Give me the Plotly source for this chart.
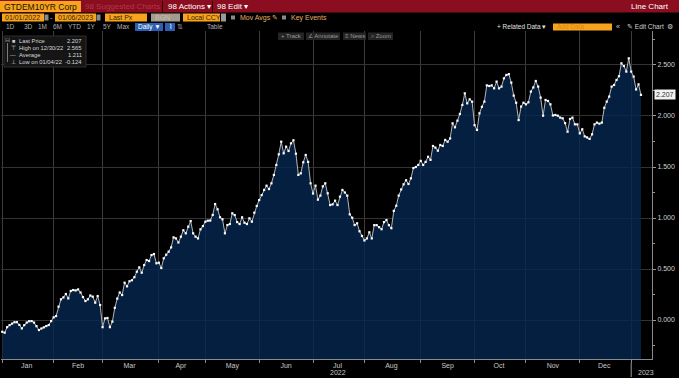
import pandas as pd
import plotly.graph_objects as go

# ---------------- data ----------------
HOLIDAYS = ["2022-04-15", "2022-04-18", "2022-12-26"]
START_DATE = "2022-01-03"
END_DATE = "2023-01-06"

jan_2022 = [-0.115, -0.124, -0.070, -0.050, -0.035, -0.022, -0.021, -0.048, -0.082, -0.050, -0.025,
            -0.012, -0.010, -0.025, -0.060, -0.098, -0.083, -0.072, -0.059, -0.049, -0.010]
feb_2022 = [0.026, 0.039, 0.131, 0.203, 0.222, 0.255, 0.212, 0.285, 0.294, 0.290, 0.300, 0.270,
            0.225, 0.186, 0.203, 0.240, 0.229, 0.170, 0.235, 0.147]
mar_2022 = [-0.070, 0.016, 0.020, -0.070, -0.016, 0.120, 0.210, 0.270, 0.245, 0.366, 0.330, 0.380,
            0.390, 0.420, 0.474, 0.516, 0.464, 0.539, 0.588, 0.578, 0.637, 0.647, 0.556]
apr_2022 = [0.562, 0.510, 0.605, 0.640, 0.670, 0.712, 0.810, 0.800, 0.760, 0.817, 0.880, 0.850,
            0.915, 0.970, 0.850, 0.817, 0.800, 0.889, 0.921]
may_2022 = [0.964, 0.974, 0.975, 1.030, 1.137, 1.085, 1.007, 0.987, 0.850, 0.931, 0.941, 1.046,
            1.029, 0.960, 0.941, 1.007, 0.954, 0.941, 0.997, 0.964, 1.052, 1.118]
jun_2022 = [1.176, 1.225, 1.275, 1.317, 1.284, 1.340, 1.422, 1.520, 1.624, 1.748, 1.634, 1.699,
            1.657, 1.732, 1.762, 1.630, 1.422, 1.438, 1.546, 1.618, 1.550, 1.340]
jul_2022 = [1.240, 1.317, 1.180, 1.220, 1.310, 1.340, 1.242, 1.127, 1.134, 1.170, 1.127, 1.209,
            1.275, 1.250, 1.219, 1.036, 1.003, 0.931, 0.948, 0.870, 0.824]
aug_2022 = [0.780, 0.800, 0.860, 0.800, 0.930, 0.930, 0.910, 0.890, 0.960, 0.980, 0.930, 0.900,
            1.070, 1.120, 1.220, 1.280, 1.330, 1.370, 1.333, 1.389, 1.490, 1.500, 1.520]
sep_2022 = [1.560, 1.520, 1.550, 1.600, 1.570, 1.706, 1.690, 1.660, 1.716, 1.706, 1.765, 1.748,
            1.780, 1.928, 1.889, 1.954, 2.020, 2.108, 2.222, 2.124, 2.163, 2.140]
oct_2022 = [1.910, 1.863, 2.026, 2.090, 2.141, 2.300, 2.294, 2.300, 2.271, 2.337, 2.271, 2.288,
            2.369, 2.402, 2.410, 2.327, 2.200, 2.130, 1.960, 2.092, 2.130]
nov_2022 = [2.114, 2.134, 2.239, 2.280, 2.343, 2.288, 2.180, 2.003, 2.157, 2.147, 2.114, 2.005,
            2.010, 2.003, 1.984, 1.977, 1.930, 1.846, 1.971, 1.984, 1.918, 1.918]
dec_2022 = [1.830, 1.870, 1.800, 1.790, 1.775, 1.820, 1.918, 1.935, 1.925, 1.935, 2.080, 2.141,
            2.190, 2.288, 2.304, 2.353, 2.390, 2.516, 2.490, 2.435, 2.565]
jan_2023 = [2.435, 2.386, 2.260, 2.310, 2.207]

MONTH_LABELS = ["Jan", "Feb", "Mar", "Apr", "May", "Jun", "Jul", "Aug", "Sep", "Oct", "Nov", "Dec"]
Y_TICKS = [0.0, 0.5, 1.0, 1.5, 2.0, 2.5]
Y_MINOR = [-0.25, 0.25, 0.75, 1.25, 1.75, 2.25, 2.75]

LEGEND_ROWS = [("Last Price", "2.207"), ("High on 12/30/22", "2.565"),
               ("Average", "1.211"), ("Low on 01/04/22", "-0.124")]
LAST_PRICE = 2.207

values = (jan_2022 + feb_2022 + mar_2022 + apr_2022 + may_2022 + jun_2022 + jul_2022 +
          aug_2022 + sep_2022 + oct_2022 + nov_2022 + dec_2022 + jan_2023)
dates = [d for d in pd.bdate_range(START_DATE, END_DATE) if d.strftime("%Y-%m-%d") not in HOLIDAYS]
assert len(dates) == len(values)

# ---------------- geometry ----------------
W, H = 679, 378
PL, PR, PT, PB = 1, 652, 31, 359
Y_MIN, Y_MAX = -0.382, 2.833
FONT = "Liberation Sans, Arial, sans-serif"


def xp(px):
    return (px - PL) / (PR - PL)


def yp(py):
    return (PB - py) / (PB - PT)


# month starts / mid points from the trading calendar
s = pd.Series(dates)
month_key = s.dt.to_period("M")
month_first = [grp.iloc[0] for _, grp in s.groupby(month_key)]
month_mid = [grp.iloc[len(grp) // 2] for _, grp in s.groupby(month_key)]

fig = go.Figure()
fig.add_trace(go.Scatter(x=dates, y=[Y_MIN] * len(dates), mode="lines",
                         line=dict(width=0, color="rgba(0,0,0,0)"), hoverinfo="skip", showlegend=False))
fig.add_trace(go.Scatter(x=dates, y=values, mode="lines+markers", fill="tonexty",
                         fillcolor="rgba(6,38,78,0.82)",
                         line=dict(color="#c8c8c8", width=0.9),
                         marker=dict(color="#ffffff", size=2.2, symbol="square"),
                         showlegend=False))

shapes = []
ann = []


def box(x0, y0, x1, y1, color, line=None):
    shapes.append(dict(type="rect", xref="paper", yref="paper", x0=xp(x0), x1=xp(x1), y0=yp(y1), y1=yp(y0),
                       fillcolor=color, line=dict(width=1 if line else 0, color=line or color), layer="above"))


def text(px, py, t, color="#c8c8c8", size=7, anchor="left"):
    ann.append(dict(xref="paper", yref="paper", x=xp(px), y=yp(py), text=t, showarrow=False,
                    xanchor=anchor, yanchor="middle", font=dict(color=color, size=size, family=FONT)))


ORANGE = "#f7a31c"
RED = "#8a0e1f"
# row 1
box(0, 0, 679, 12.5, RED)
box(0, 1, 81, 12, ORANGE)
text(2, 6.8, "GTDEM10YR Corp", "#1a1000", 8.5)
text(83, 6.8, "98 Suggested Charts", "#b2374a", 8)
box(162, 1, 163, 12, "#2a0006")
text(166, 6.8, "98 Actions ▾", "#ffffff", 8)
box(212, 1, 213, 12, "#2a0006")
text(215, 6.8, "98 Edit ▾", "#ffffff", 8)
text(671, 6.8, "Line Chart", "#ffffff", 8, "right")
# row 2
box(2, 13.5, 44, 21.5, ORANGE)
text(3, 17.7, "01/01/2022", "#3a2200", 7)
box(44.5, 14.5, 48.5, 20.5, "#8a8a8a")
text(52, 17.7, "-", "#c8c8c8", 7, "center")
box(55, 13.5, 96, 21.5, ORANGE)
text(56, 17.7, "01/06/2023", "#3a2200", 7)
box(96.5, 14.5, 100.5, 20.5, "#8a8a8a")
box(105, 13.5, 147, 21.5, ORANGE)
text(107, 17.7, "Last Px", "#3a2200", 7)
box(151, 13.5, 180, 21.5, "#a39c8c")
text(153, 17.7, "BGN", "#c9c2b2", 7)
box(183, 13.5, 220, 21.5, ORANGE)
text(185, 17.7, "Local CCY", "#3a2200", 7)
box(221, 13.5, 226, 21.5, "#9a9a9a")
box(231, 15.5, 235, 19.5, "#8a8a8a")
text(238, 17.7, "Mov Avgs ✎", "#e8b060", 7)
box(282, 15.5, 286, 19.5, "#8a8a8a")
text(289, 17.7, "Key Events", "#e8b060", 7)
# row 3
for lbl, px in [("1D", 10), ("3D", 28), ("1M", 42), ("6M", 57), ("YTD", 74), ("1Y", 92), ("5Y", 107), ("Max", 124)]:
    text(px, 27, lbl, "#b0b0b0", 6.5, "center")
box(135, 23, 163, 31, "#2c5fb3")
text(149, 27, "Daily ▼", "#ffffff", 6.5, "center")
box(165, 23, 175, 31, "#2c5fb3")
text(170, 27, "⌇", "#ffffff", 6.5, "center")
text(180, 27, "⇅", "#a0a0a0", 6.5, "center")
text(215, 27, "Table", "#b0b0b0", 6.5, "center")
text(548, 27, "+ Related Data ▾", "#e0e0e0", 6.5, "right")
box(553, 23.5, 612, 30.5, ORANGE)
text(555, 27, "Add Data", "#d88a10", 6.5)
text(618, 27, "«", "#d0d0d0", 7, "center")
text(625, 27, "✎ Edit Chart", "#d0d0d0", 6.5)
text(670, 27, "⚙", "#d0d0d0", 7, "center")
# toolbar
for lbl, x0, x1 in [("+ Track", 278, 304), ("∠ Annotate", 306, 340), ("≡ News", 343, 366), ("⌕ Zoom", 368, 393)]:
    box(x0, 32.5, x1, 40, "#242424")
    text((x0 + x1) / 2, 36.4, lbl, "#9a9a9a", 6, "center")

# legend box
box(4, 36, 86, 67, "#151515", "#2e2e2e")
shapes.append(dict(type="line", xref="paper", yref="paper", x0=xp(7.5), x1=xp(7.5), y0=yp(62), y1=yp(43),
                   line=dict(color="#7a7a7a", width=1), layer="above"))
icons = ["■", "⊤", "—", "⊥"]
for i, ((lbl, val), ic) in enumerate(zip(LEGEND_ROWS, icons)):
    yy = 41 + i * 7
    text(13, yy, ic, "#d0d0d0", 5.5, "center")
    text(17, yy, lbl, "#d8d8d8", 5.8)
    text(84, yy, val, "#d8d8d8", 5.8, "right")
text(7.5, 40.5, "⊟", "#9a9a9a", 6, "center")

# last price tag
ann.append(dict(xref="paper", yref="y", x=1, y=LAST_PRICE, text=str(LAST_PRICE), showarrow=False,
                xanchor="left", yanchor="middle", xshift=2, bgcolor="#f2f2f2", borderpad=1,
                font=dict(color="#303030", size=7, family=FONT)))

# year labels
ann.append(dict(xref="x", yref="paper", x=month_mid[6], y=yp(372), text="2022", showarrow=False,
                xanchor="center", yanchor="middle", font=dict(color="#c8c8c8", size=7, family=FONT)))
ann.append(dict(xref="x", yref="paper", x=month_first[12], y=yp(372), text="2023", showarrow=False,
                xanchor="left", yanchor="middle", xshift=5, font=dict(color="#c8c8c8", size=7, family=FONT)))
shapes.append(dict(type="line", xref="x", yref="paper", x0=month_first[12], x1=month_first[12],
                   y0=yp(377), y1=yp(363), line=dict(color="#9a9a9a", width=1)))

fig.update_layout(
    width=W, height=H,
    margin=dict(l=PL, r=W - PR, t=PT, b=H - PB),
    paper_bgcolor="#000000", plot_bgcolor="#000000",
    showlegend=False, hovermode=False,
    font=dict(family=FONT, color="#c8c8c8", size=7),
    shapes=shapes, annotations=ann,
    xaxis=dict(
        type="date",
        range=["2021-12-31 12:00", "2023-01-12 12:00"],
        rangebreaks=[dict(bounds=["sat", "mon"]), dict(values=HOLIDAYS)],
        tickmode="array", tickvals=month_mid[:12], ticktext=MONTH_LABELS,
        ticks="", showgrid=False, zeroline=False,
        showline=True, linecolor="#8a8a8a", linewidth=1,
        tickfont=dict(size=7, color="#c8c8c8"),
        minor=dict(tickmode="array", tickvals=month_first, showgrid=True,
                   gridcolor="#3c3c3c", gridwidth=1, ticks="outside", ticklen=3, tickcolor="#8a8a8a"),
    ),
    yaxis=dict(
        side="right", range=[Y_MIN, Y_MAX],
        tickmode="array", tickvals=Y_TICKS, ticktext=["%.3f" % v for v in Y_TICKS],
        ticks="outside", ticklen=3, tickcolor="#9a9a9a",
        showgrid=True, gridcolor="#333333", gridwidth=1, zeroline=False,
        showline=True, linecolor="#8a8a8a", linewidth=1,
        tickfont=dict(size=7, color="#d0d0d0"),
        minor=dict(tickmode="array", tickvals=Y_MINOR, ticks="outside", ticklen=2, tickcolor="#9a9a9a",
                   showgrid=False),
    ),
)

fig.write_html("out.html", config={"displayModeBar": False},
               post_script="document.body.style.margin='0';document.body.style.overflow='hidden';"
                           "document.body.style.background='#000';")
